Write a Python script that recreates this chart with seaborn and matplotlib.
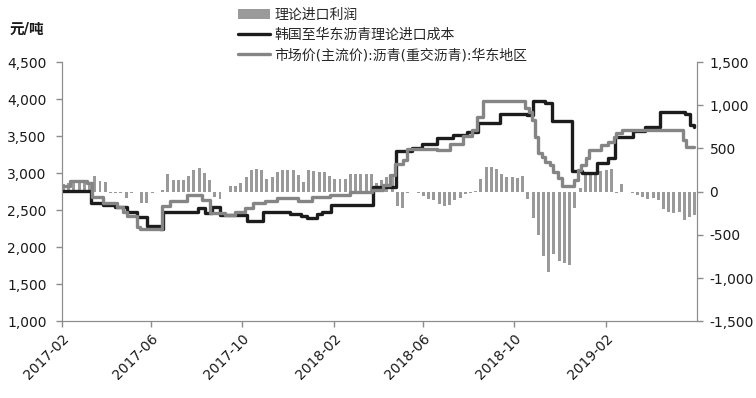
import matplotlib
matplotlib.use("Agg")
import numpy as np
import pandas as pd
import matplotlib.pyplot as plt
import matplotlib.dates as mdates
from matplotlib.patches import Patch
from matplotlib.lines import Line2D
from matplotlib.ticker import FuncFormatter
import seaborn as sns

# 韩国至华东沥青理论进口成本 (元/吨), step breakpoints
cost_dates = ["2017-02-01", "2017-03-12", "2017-03-28", "2017-04-13", "2017-04-29",
              "2017-05-13", "2017-05-26", "2017-06-12", "2017-06-16", "2017-08-02",
              "2017-08-12", "2017-08-21", "2017-09-01", "2017-10-07", "2017-10-29",
              "2017-12-04", "2017-12-18", "2017-12-27", "2018-01-09", "2018-01-16",
              "2018-01-28", "2018-03-25", "2018-04-25", "2018-05-17", "2018-05-30",
              "2018-06-19", "2018-07-11", "2018-07-29", "2018-08-13", "2018-09-12",
              "2018-10-18", "2018-10-26", "2018-11-11", "2018-11-21", "2018-12-17",
              "2018-12-31", "2019-01-20", "2019-02-04", "2019-02-13", "2019-03-09",
              "2019-03-25", "2019-04-14", "2019-05-18", "2019-05-25", "2019-05-30"]
cost_vals = [2760, 2590, 2570, 2540, 2470,
             2405, 2285, 2240, 2470, 2525,
             2460, 2540, 2430, 2350, 2470,
             2450, 2420, 2390, 2450, 2470,
             2570, 2810, 3300, 3340, 3400,
             3470, 3510, 3550, 3680, 3800,
             3790, 3980, 3950, 3710, 3030,
             3000, 3140, 3200, 3490, 3570,
             3620, 3820, 3800, 3650, 3620]

# 市场价(主流价):沥青(重交沥青):华东地区 (元/吨), step breakpoints
price_dates = ["2017-02-01", "2017-02-12", "2017-03-07", "2017-03-13", "2017-03-28",
               "2017-04-16", "2017-04-24", "2017-04-29", "2017-05-13", "2017-05-17",
               "2017-06-15", "2017-06-26", "2017-07-19", "2017-08-08", "2017-08-19",
               "2017-09-08", "2017-09-21", "2017-10-05", "2017-10-15", "2017-11-01",
               "2017-11-17", "2017-12-14", "2018-01-03", "2018-01-27", "2018-02-23",
               "2018-03-24", "2018-04-08", "2018-04-17", "2018-04-24", "2018-05-05",
               "2018-05-10", "2018-06-19", "2018-07-07", "2018-07-24", "2018-08-05",
               "2018-08-12", "2018-08-20", "2018-10-15", "2018-10-20", "2018-10-25",
               "2018-10-29", "2018-11-02", "2018-11-07", "2018-11-11", "2018-11-18",
               "2018-11-22", "2018-11-29", "2018-12-04", "2018-12-20", "2018-12-25",
               "2018-12-29", "2019-01-05", "2019-01-09", "2019-01-25", "2019-02-03",
               "2019-02-11", "2019-02-14", "2019-02-23", "2019-05-15", "2019-05-19",
               "2019-05-30"]
price_vals = [2830, 2900, 2860, 2680, 2590,
              2545, 2475, 2420, 2270, 2250,
              2560, 2620, 2700, 2635, 2460,
              2440, 2470, 2530, 2600, 2630,
              2670, 2630, 2680, 2700, 2740,
              2770, 2840, 2970, 3130, 3180,
              3330, 3310, 3400, 3500, 3580,
              3760, 3970, 3880, 3830, 3720,
              3490, 3270, 3220, 3150, 3110,
              3015, 2930, 2820, 2905, 3040,
              3110, 3200, 3310, 3375, 3420,
              3490, 3540, 3580, 3450, 3350,
              3350]

# 理论进口利润 (元/吨), weekly from 2017-02-03
profit_start = "2017-02-03"
profit_vals = [90, 100, 100, 100, 100, 100, 180, 120, 110, -10,
               -10, -15, -70, -10, 0, -130, -130, -10, -5, 20,
               210, 130, 130, 140, 180, 250, 270, 220, 130, -60,
               -90, 0, 60, 60, 100, 170, 250, 260, 250, 150,
               170, 230, 250, 250, 250, 190, 110, 250, 240, 230,
               230, 180, 150, 150, 150, 210, 210, 210, 200, 210,
               100, 130, 170, 200, -170, -190, -10, 0, -10, -50,
               -80, -100, -140, -170, -150, -100, -70, -30, -20, 10,
               150, 290, 280, 260, 200, 170, 170, 160, 180, -80,
               -300, -500, -750, -930, -720, -800, -830, -850, -190, 40,
               200, 230, 230, 240, 250, 260, -10, 90, -5, -15,
               -40, -60, -80, -70, -100, -200, -240, -250, -240, -330,
               -290, -270]

xtick_dates = ["2017-02-01", "2017-06-01", "2017-10-01", "2018-02-01",
               "2018-06-01", "2018-10-01", "2019-02-01"]

label_profit = "理论进口利润"
label_cost = "韩国至华东沥青理论进口成本"
label_price = "市场价(主流价):沥青(重交沥青):华东地区"

sns.set_style("white")
plt.rcParams["font.family"] = ["DejaVu Sans", "Noto Sans CJK SC"]
plt.rcParams["axes.unicode_minus"] = False

bar_color = "#9a9a9a"
cost_color = "#1c1c1c"
price_color = "#858585"
spine_color = "#8c8c8c"

fig = plt.figure(figsize=(7.56, 3.98), dpi=100)
ax = fig.add_axes([0.082, 0.193, 0.840, 0.651])
ax2 = ax.twinx()

profit_dates = pd.date_range(profit_start, periods=len(profit_vals), freq="7D")
ax2.bar(profit_dates, profit_vals, width=4, color=bar_color, linewidth=0)

sns.lineplot(x=pd.to_datetime(cost_dates), y=cost_vals, ax=ax, color=cost_color,
             linewidth=2.4, drawstyle="steps-post", legend=False)
sns.lineplot(x=pd.to_datetime(price_dates), y=price_vals, ax=ax, color=price_color,
             linewidth=2.4, drawstyle="steps-post", legend=False)

ax.set_zorder(ax2.get_zorder() + 1)
ax.patch.set_visible(False)

ax.set_xlim(pd.Timestamp("2017-02-01"), pd.Timestamp("2019-06-03"))
ax.set_ylim(1000, 4500)
ax.set_yticks(np.arange(1000, 4501, 500))
ax2.set_ylim(-1500, 1500)
ax2.set_yticks(np.arange(-1500, 1501, 500))
fmt = FuncFormatter(lambda v, p: f"{v:,.0f}")
ax.yaxis.set_major_formatter(fmt)
ax2.yaxis.set_major_formatter(fmt)

ax.set_xticks(pd.to_datetime(xtick_dates))
ax.xaxis.set_major_formatter(mdates.DateFormatter("%Y-%m"))
for lab in ax.get_xticklabels():
    lab.set_rotation(45)
    lab.set_ha("right")
    lab.set_rotation_mode("anchor")

ax.set_xlabel("")
ax.set_ylabel("")
for a in (ax, ax2):
    a.spines["top"].set_visible(False)
    for s in ("left", "right", "bottom"):
        a.spines[s].set_color(spine_color)
    a.tick_params(axis="both", colors=spine_color, labelcolor="#1a1a1a",
                  labelsize=10, length=4, width=1, direction="out")
ax.tick_params(axis="y", left=True, right=False, pad=7)
ax.tick_params(axis="x", bottom=True)
ax2.tick_params(axis="y", right=True, left=False, pad=5)
ax.grid(False)
ax2.grid(False)

handles = [Patch(facecolor=bar_color, edgecolor="none"),
           Line2D([], [], color=cost_color, linewidth=2.4),
           Line2D([], [], color=price_color, linewidth=2.4)]
fig.legend(handles, [label_profit, label_cost, label_price], loc="upper left",
           bbox_to_anchor=(0.305, 1.0), frameon=False, fontsize=10,
           handlelength=2.3, labelspacing=0.45, handletextpad=0.3, borderaxespad=0.15)

fig.text(0.013, 0.915, "元/吨", fontsize=10.5, fontweight="bold", color="#1a1a1a")

fig.savefig("out.png", dpi=100)
